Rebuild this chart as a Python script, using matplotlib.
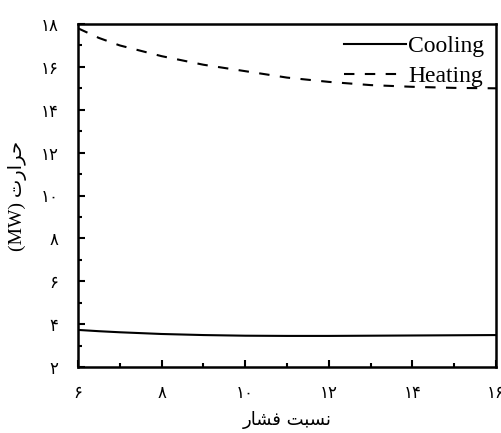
import numpy as np
import matplotlib
matplotlib.use('Agg')
import matplotlib.pyplot as plt
from matplotlib.ticker import MultipleLocator

# Data
pressure_ratio = [6, 6.5, 7, 8, 9, 10, 11, 12, 13, 14, 15, 16]
heating = [17.8, 17.35, 17.0, 16.5, 16.1, 15.8, 15.5, 15.3, 15.15, 15.07, 15.02, 15.0]
cooling = [3.73, 3.67, 3.62, 3.54, 3.49, 3.46, 3.45, 3.45, 3.46, 3.47, 3.48, 3.49]

x_ticks = [6, 8, 10, 12, 14, 16]
y_ticks = [2, 4, 6, 8, 10, 12, 14, 16, 18]

# Persian digits
fa_digits = str.maketrans('0123456789', '\u06f0\u06f1\u06f2\u06f3\u06f4\u06f5\u06f6\u06f7\u06f8\u06f9')

def fa(n):
    return str(n).translate(fa_digits)

# Arabic text pre-shaped (presentation forms, visual order)
xlabel_text = '\ufead\ufe8e\ufeb8\ufed3 \ufe96\ufe92\ufeb4\ufee7'   # نسبت فشار
ylabel_text = '(MW) ' + '\ufe95\ufead\ufe8d\ufeae\ufea3'         # حرارت

fonts = ['Liberation Serif', 'DejaVu Sans']
plt.rcParams['font.family'] = fonts

fig = plt.figure(figsize=(5.02, 4.33), dpi=100)
ax = fig.add_axes([78 / 502, 66 / 433, 418 / 502, 343 / 433])

ax.plot(pressure_ratio, cooling, color='black', lw=1.5, label='Cooling')
ax.plot(pressure_ratio, heating, color='black', lw=1.5, ls=(0, (5, 5)), label='Heating')

ax.set_xlim(6, 16)
ax.set_ylim(2, 18)
ax.set_xticks(x_ticks)
ax.set_yticks(y_ticks)
ax.set_xticklabels([fa(v) for v in x_ticks], fontsize=12, family=['DejaVu Sans'])
ax.set_yticklabels([fa(v) for v in y_ticks], fontsize=12, family=['DejaVu Sans'])
ax.xaxis.set_minor_locator(MultipleLocator(1))
ax.yaxis.set_minor_locator(MultipleLocator(1))
ax.tick_params(which='both', direction='in', top=False, right=False, width=1.5)
ax.tick_params(axis='y', which='major', length=5, pad=14)
ax.tick_params(axis='x', which='major', length=5, pad=12)
ax.tick_params(which='minor', length=3)

for s in ax.spines.values():
    s.set_linewidth(1.8)

ax.set_xlabel(xlabel_text, fontsize=13, family=['DejaVu Sans'], labelpad=7)
ax.set_ylabel(ylabel_text, fontsize=14, family=fonts, labelpad=10)

ax.legend(loc='upper right', frameon=False, fontsize=17, handlelength=2.6,
          handletextpad=0.1, borderaxespad=0.3, labelspacing=0.35,
          borderpad=0.2)

fig.savefig('out.png', dpi=100)
